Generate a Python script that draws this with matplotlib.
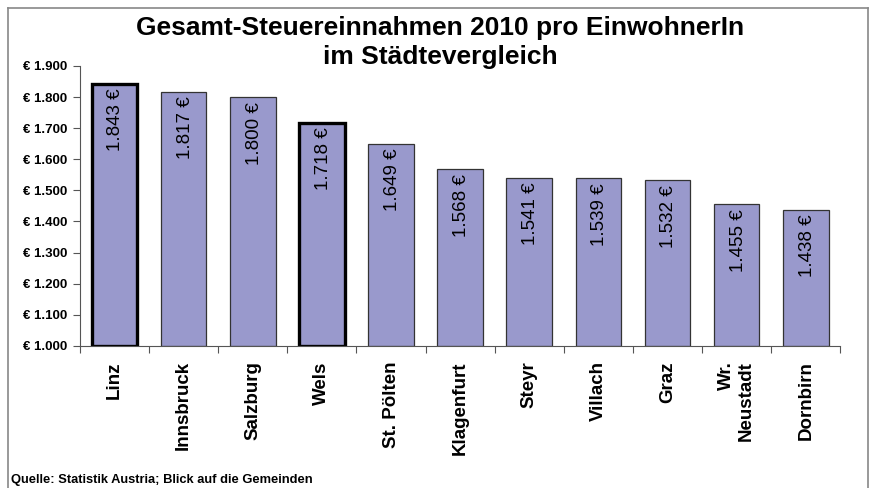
import matplotlib.pyplot as plt
from matplotlib.lines import Line2D
import numpy as np

plt.rcParams['font.family'] = ['Liberation Sans', 'DejaVu Sans']

# ── Daten ──────────────────────────────────────────────────────────────────────
staedte = ["Linz", "Innsbruck", "Salzburg", "Wels", "St. Pölten", "Klagenfurt",
           "Steyr", "Villach", "Graz", "Wr.\nNeustadt", "Dornbirn"]
werte = [1843, 1817, 1800, 1718, 1649, 1568, 1541, 1539, 1532, 1455, 1438]
hervorgehoben = ["Linz", "Wels"]
y_ticks = [1000, 1100, 1200, 1300, 1400, 1500, 1600, 1700, 1800, 1900]

fig = plt.figure(figsize=(8.73, 4.88), dpi=100)
ax = fig.add_axes([0.0916, 0.291, 0.871, 0.574])

x = np.arange(len(staedte))
for i, (name, v) in enumerate(zip(staedte, werte)):
    dick = name in hervorgehoben
    ax.bar(i, v - 1000, bottom=1000, width=0.66, color="#9999CC",
           edgecolor="black" if dick else "#333333",
           linewidth=2.4 if dick else 0.9, zorder=2)
    ax.text(i + 0.02, v - 15, f"{v:,}".replace(",", ".") + " €", rotation=90,
            ha="center", va="top", fontsize=13.5, color="black", zorder=3)

ax.set_xlim(-0.5, len(staedte) - 0.5)
ax.set_ylim(1000, 1900)
ax.set_yticks(y_ticks)
ax.set_yticklabels([f"€ {t:,}".replace(",", ".") for t in y_ticks],
                   fontsize=9.5, fontweight="bold")
ax.tick_params(axis="y", direction="out", length=5, width=0.8, color="#555555", pad=4)

ax.set_xticks(x)
ax.set_xticklabels(staedte, rotation=90, fontsize=13.5, fontweight="bold",
                   multialignment="right")
ax.tick_params(axis="x", length=0, pad=11)
ax.set_xticks(np.arange(-0.5, len(staedte)), minor=True)
ax.tick_params(axis="x", which="minor", direction="out", length=5, width=0.8,
               color="#555555")

for s in ["top", "right"]:
    ax.spines[s].set_visible(False)
for s in ["left", "bottom"]:
    ax.spines[s].set_color("#555555")
    ax.spines[s].set_linewidth(0.8)

fig.text(0.504, 0.968, "Gesamt-Steuereinnahmen 2010 pro EinwohnerIn\nim Städtevergleich",
         ha="center", va="top", fontsize=19, fontweight="bold", linespacing=1.3)
fig.text(0.013, 0.016, "Quelle: Statistik Austria; Blick auf die Gemeinden",
         ha="left", va="center", fontsize=9.3, fontweight="bold")

# Rahmen
rahmen = "#888888"
fig.add_artist(Line2D([8 / 873, 8 / 873], [0, 1 - 8 / 488], color=rahmen, lw=1.2))
fig.add_artist(Line2D([868 / 873, 868 / 873], [0, 1 - 8 / 488], color=rahmen, lw=1.2))
fig.add_artist(Line2D([8 / 873, 868 / 873], [1 - 8 / 488, 1 - 8 / 488], color=rahmen, lw=1.2))

fig.savefig("out.png", dpi=100)
